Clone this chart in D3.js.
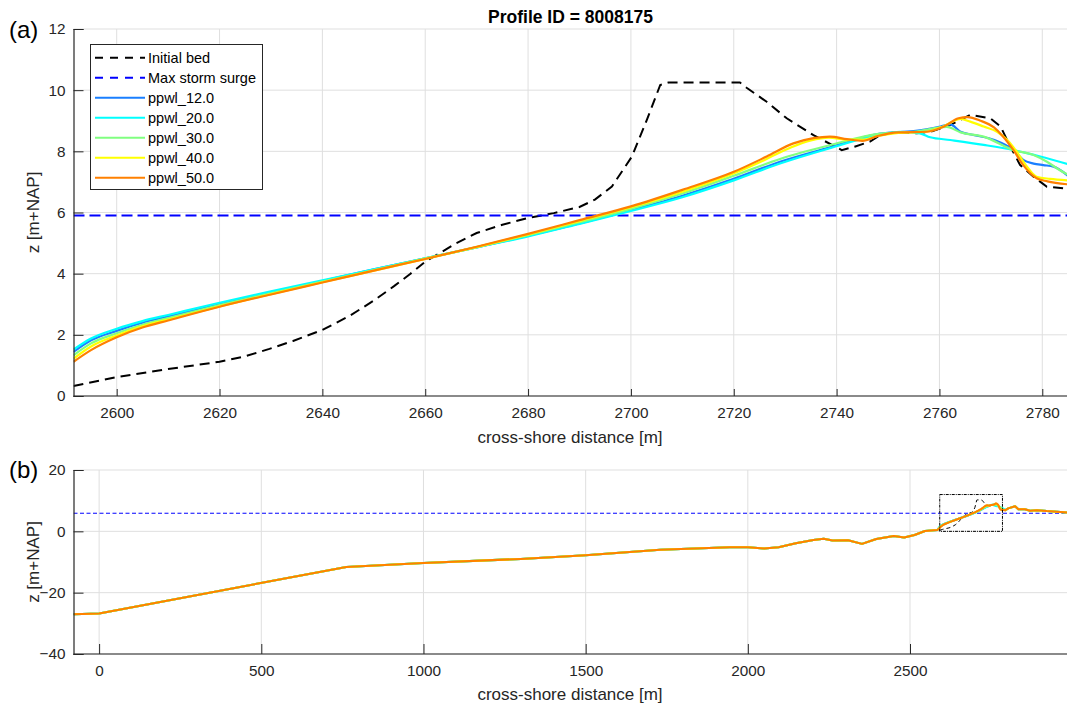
<!DOCTYPE html>
<html>
<head>
<meta charset="utf-8">
<script src="https://cdn.jsdelivr.net/npm/d3@7"></script>
<style>
  html, body { margin: 0; padding: 0; background: #fff; }
  svg { display: block; font-family: "Liberation Sans", Arial, Helvetica, sans-serif; }
</style>
</head>
<body>
<svg id="chart" width="1067" height="706"></svg>
<script>
// ---- data: cross-shore distance [m], bed level z [m+NAP] ----
const profileTitle = "Profile ID = 8008175";
const stormSurgeLevel = 5.9;

const initialBed = [
  [2591.6,0.33],[2600,0.62],[2610,0.88],[2620,1.12],[2625,1.3],[2629.7,1.54],[2634.3,1.8],
  [2640,2.16],[2645.3,2.62],[2650,3.12],[2654,3.6],[2657,3.98],[2660,4.39],[2666,4.99],
  [2670,5.33],[2675,5.6],[2680,5.82],[2685,5.98],[2690,6.18],[2693,6.42],[2696.3,6.85],
  [2700.2,7.83],[2703.1,9.03],[2705.7,10.17],[2707.3,10.25],[2721.2,10.25],[2722.5,10.08],
  [2726.4,9.62],[2730.3,9.08],[2735.5,8.53],[2741,8.04],[2743.5,8.15],[2746.5,8.32],
  [2748.5,8.53],[2751.7,8.64],[2755.6,8.59],[2758.2,8.64],[2762.1,8.86],[2766,9.19],
  [2769.9,9.08],[2771.9,8.81],[2773.8,8.15],[2775.7,7.55],[2778.3,7.17],[2780.9,6.84],
  [2785,6.78]
];

const ppwl_12 = [
  [2591.6,1.44],[2595,1.82],[2600,2.13],[2605,2.4],[2610,2.6],[2620,3.0],[2630,3.38],
  [2640,3.76],[2650,4.14],[2660,4.5],[2670,4.86],[2680,5.24],[2690,5.64],[2700,6.08],
  [2710,6.55],[2720,7.1],[2729,7.66],[2738.7,8.13],[2748.5,8.58],[2755,8.66],[2760.2,8.81],
  [2762.1,8.88],[2764.1,8.64],[2766.8,8.53],[2770.7,8.37],[2774.4,8.04],[2776.3,7.72],
  [2778.3,7.6],[2780.2,7.55],[2782.2,7.5],[2785,7.2]
];
const ppwl_20 = [
  [2591.6,1.52],[2595,1.88],[2600,2.2],[2605,2.45],[2610,2.65],[2620,3.05],[2630,3.42],
  [2640,3.78],[2650,4.14],[2660,4.5],[2670,4.86],[2680,5.22],[2690,5.63],[2700,6.05],
  [2710,6.5],[2720,7.05],[2729,7.6],[2738.7,8.1],[2748.5,8.55],[2752.3,8.64],[2756.2,8.59],
  [2758.2,8.46],[2762.1,8.37],[2768.6,8.21],[2774.4,8.04],[2779.6,7.83],[2785,7.58]
];
const ppwl_30 = [
  [2591.6,1.33],[2595,1.72],[2600,2.05],[2605,2.33],[2610,2.55],[2620,2.97],[2630,3.36],
  [2640,3.74],[2650,4.12],[2660,4.5],[2670,4.87],[2680,5.26],[2690,5.68],[2700,6.12],
  [2710,6.62],[2720,7.2],[2729,7.75],[2738.7,8.2],[2748.5,8.58],[2755,8.64],[2761.4,8.8],
  [2764.1,8.62],[2768.6,8.48],[2774.4,8.04],[2778.3,7.88],[2780.9,7.66],[2782.9,7.44],
  [2785,7.23]
];
const ppwl_40 = [
  [2591.6,1.22],[2595,1.62],[2600,1.98],[2605,2.28],[2610,2.5],[2620,2.93],[2630,3.33],
  [2640,3.72],[2650,4.1],[2660,4.48],[2670,4.87],[2680,5.28],[2690,5.72],[2700,6.17],
  [2710,6.68],[2720,7.28],[2726,7.72],[2731,8.12],[2735,8.36],[2738.5,8.45],[2742,8.38],
  [2745,8.38],[2748,8.5],[2752,8.6],[2757.5,8.64],[2760.8,8.82],[2764.1,9.06],[2766,8.97],
  [2768.6,8.81],[2771.2,8.64],[2773.2,8.37],[2774.8,8.04],[2776.8,7.55],[2778.9,7.17],
  [2781.5,7.1],[2785,7.05]
];
const ppwl_50 = [
  [2591.6,1.12],[2595,1.5],[2600,1.92],[2605,2.24],[2610,2.47],[2620,2.92],[2630,3.32],
  [2640,3.71],[2650,4.1],[2660,4.48],[2670,4.88],[2680,5.3],[2690,5.75],[2700,6.2],
  [2710,6.74],[2720,7.33],[2726.4,7.83],[2731.6,8.26],[2735.5,8.43],[2738.7,8.48],
  [2742,8.4],[2745,8.34],[2748,8.5],[2752,8.62],[2757.5,8.64],[2760.8,8.8],[2763.7,9.08],
  [2765.5,9.12],[2768,9.0],[2770.6,8.78],[2772.4,8.48],[2774.4,8.04],[2776.3,7.55],
  [2778.9,7.12],[2781,7.02],[2785,6.92]
];

// seaward and landward parts of the full transect (shared by all runs)
const offshoreProfile = [
  [-79,-27.0],[0,-26.8],[762,-11.6],[1000,-10.3],[1300,-9.0],[1500,-7.8],[1730,-6.0],
  [1944,-5.2],[2000,-5.2],[2050,-5.6],[2095,-5.2],[2148,-3.9],[2202,-2.8],[2234,-2.4],
  [2261,-3.0],[2309,-2.9],[2352,-4.1],[2396,-2.5],[2450,-1.5],[2482,-2.0],[2514,-1.2],
  [2546,0.1],[2584,0.4]
];
const landwardProfile = [
  [2794,6.9],[2803,7.5],[2824,8.2],[2834,7.2],[2854,7.2],[2870,6.7],[2891,6.9],
  [2922,6.6],[2953,6.4],[2984,6.1]
];

const runNames  = ["ppwl_12.0","ppwl_20.0","ppwl_30.0","ppwl_40.0","ppwl_50.0"];
const runData   = [ppwl_12, ppwl_20, ppwl_30, ppwl_40, ppwl_50];
const runColors = ["#1a7fff","#00ffff","#80ff80","#ffff00","#ff8000"];

const ticksA_x = [2600,2620,2640,2660,2680,2700,2720,2740,2760,2780];
const ticksA_y = [0,2,4,6,8,10,12];
const ticksB_x = [0,500,1000,1500,2000,2500];
const ticksB_y = [-40,-20,0,20];

// ---- layout ----
const svg = d3.select("#chart");
const W = 1067;
const axisColor = "#262626";
const gridColor = "#dfdfdf";

const xA = d3.scaleLinear().domain([2591.6, 2785]).range([73.5, 1068]);
const yA = d3.scaleLinear().domain([0, 12]).range([396, 29]);
const xB = d3.scaleLinear().domain([-79, 2984]).range([73.5, 1067]);
const yB = d3.scaleLinear().domain([-40, 20]).range([654, 470]);

function drawPanel(x, y, xt, yt, xTickLen, clipId) {
  const [x0, x1] = x.range();
  const [y0, y1] = y.range(); // y0 = bottom
  const g = svg.append("g");

  svg.append("clipPath").attr("id", clipId)
    .append("rect").attr("x", x0).attr("y", y1).attr("width", Math.min(x1, W) - x0).attr("height", y0 - y1);

  // grid
  const grid = g.append("g");
  grid.selectAll("line.gx").data(xt).join("line")
    .attr("x1", d => x(d)).attr("x2", d => x(d)).attr("y1", y1).attr("y2", y0)
    .attr("stroke", gridColor).attr("stroke-width", 1);
  grid.selectAll("line.gy").data(yt).join("line")
    .attr("x1", x0).attr("x2", W).attr("y1", d => y(d)).attr("y2", d => y(d))
    .attr("stroke", gridColor).attr("stroke-width", 1);

  const plot = g.append("g").attr("clip-path", `url(#${clipId})`);

  // axes (ticks point inward)
  const ax = g.append("g").attr("transform", `translate(0,${y0})`)
    .call(d3.axisBottom(x).tickValues(xt).tickSize(-xTickLen).tickPadding(11.5).tickFormat(d3.format("d")));
  const ay = g.append("g").attr("transform", `translate(${x0},0)`)
    .call(d3.axisLeft(y).tickValues(yt).tickSize(-10).tickPadding(8).tickFormat(d3.format("d")));
  [ax, ay].forEach(a => {
    a.select(".domain").attr("stroke", axisColor).attr("stroke-width", 1.2);
    a.selectAll(".tick line").attr("stroke", axisColor).attr("stroke-width", 1);
    a.selectAll(".tick text").attr("fill", axisColor).attr("font-size", 15.3);
  });
  // x-axis line across the full width
  ax.select(".domain").attr("d", `M${x0},0H${W}`);
  return { g, plot };
}

const smoothLine = (x, y) => d3.line().x(d => x(d[0])).y(d => y(d[1])).curve(d3.curveMonotoneX);
const straightLine = (x, y) => d3.line().x(d => x(d[0])).y(d => y(d[1]));

// ---- panel (a): zoomed profile ----
const A = drawPanel(xA, yA, ticksA_x, ticksA_y, 7, "clipA");

A.plot.append("path").datum(initialBed).attr("d", straightLine(xA, yA))
  .attr("fill", "none").attr("stroke", "#000").attr("stroke-width", 2)
  .attr("stroke-dasharray", "10,6");
A.plot.append("line")
  .attr("x1", xA(2591.6)).attr("x2", xA(2785)).attr("y1", yA(stormSurgeLevel)).attr("y2", yA(stormSurgeLevel))
  .attr("stroke", "#0000ff").attr("stroke-width", 2).attr("stroke-dasharray", "11,5");
runData.forEach((d, i) => {
  A.plot.append("path").datum(d).attr("d", smoothLine(xA, yA))
    .attr("fill", "none").attr("stroke", runColors[i]).attr("stroke-width", 2.2)
    .attr("stroke-linejoin", "round");
});

// title
svg.append("text").attr("x", 570.5).attr("y", 23).attr("text-anchor", "middle")
  .attr("font-size", 17.5).attr("font-weight", "bold").attr("fill", "#000").text(profileTitle);

// axis labels (a)
svg.append("text").attr("x", 570).attr("y", 443).attr("text-anchor", "middle")
  .attr("font-size", 17).attr("fill", axisColor).text("cross-shore distance [m]");
svg.append("text").attr("transform", `translate(39,${(29 + 396) / 2}) rotate(-90)`)
  .attr("text-anchor", "middle").attr("font-size", 17).attr("fill", axisColor).text("z [m+NAP]");
svg.append("text").attr("x", 9).attr("y", 38).attr("font-size", 24).attr("fill", "#000").text("(a)");

// legend
const legendItems = [
  { name: "Initial bed", color: "#000", dash: "8,7" },
  { name: "Max storm surge", color: "#0000ff", dash: "8,7" },
  ...runNames.map((n, i) => ({ name: n, color: runColors[i], dash: null }))
];
const lg = svg.append("g");
lg.append("rect").attr("x", 90.5).attr("y", 44.5).attr("width", 172).attr("height", 145)
  .attr("fill", "#fff").attr("stroke", axisColor).attr("stroke-width", 1);
legendItems.forEach((it, i) => {
  const yy = 57.7 + i * 20;
  const ln = lg.append("line").attr("x1", 95).attr("x2", 145).attr("y1", yy).attr("y2", yy)
    .attr("stroke", it.color).attr("stroke-width", 2);
  if (it.dash) ln.attr("stroke-dasharray", it.dash);
  lg.append("text").attr("x", 148).attr("y", yy).attr("dy", "0.35em")
    .attr("font-size", 14.5).attr("fill", "#000").text(it.name);
});

// ---- panel (b): full transect ----
const B = drawPanel(xB, yB, ticksB_x, ticksB_y, 10, "clipB");
const lineB = straightLine(xB, yB);
const fullProfile = d => offshoreProfile.concat(d, landwardProfile);

B.plot.append("path").datum(fullProfile(initialBed)).attr("d", lineB)
  .attr("fill", "none").attr("stroke", "#000").attr("stroke-width", 1)
  .attr("stroke-dasharray", "4,3");
B.plot.append("line")
  .attr("x1", xB(-79)).attr("x2", xB(2984)).attr("y1", yB(stormSurgeLevel)).attr("y2", yB(stormSurgeLevel))
  .attr("stroke", "#0000ff").attr("stroke-width", 1).attr("stroke-dasharray", "4,2.5");
runData.forEach((d, i) => {
  B.plot.append("path").datum(fullProfile(d)).attr("d", lineB)
    .attr("fill", "none").attr("stroke", runColors[i]).attr("stroke-width", 2)
    .attr("stroke-linejoin", "round");
});
// extent of panel (a)
B.plot.append("rect")
  .attr("x", xB(xA.domain()[0])).attr("y", yB(yA.domain()[1]))
  .attr("width", xB(xA.domain()[1]) - xB(xA.domain()[0]))
  .attr("height", yB(yA.domain()[0]) - yB(yA.domain()[1]))
  .attr("fill", "none").attr("stroke", "#000").attr("stroke-width", 1)
  .attr("stroke-dasharray", "3,1,1,1");

svg.append("text").attr("x", 570).attr("y", 700).attr("text-anchor", "middle")
  .attr("font-size", 17).attr("fill", axisColor).text("cross-shore distance [m]");
svg.append("text").attr("transform", `translate(39,${(470 + 654) / 2}) rotate(-90)`)
  .attr("text-anchor", "middle").attr("font-size", 17).attr("fill", axisColor).text("z [m+NAP]");
svg.append("text").attr("x", 9).attr("y", 478).attr("font-size", 24).attr("fill", "#000").text("(b)");
</script>
</body>
</html>
